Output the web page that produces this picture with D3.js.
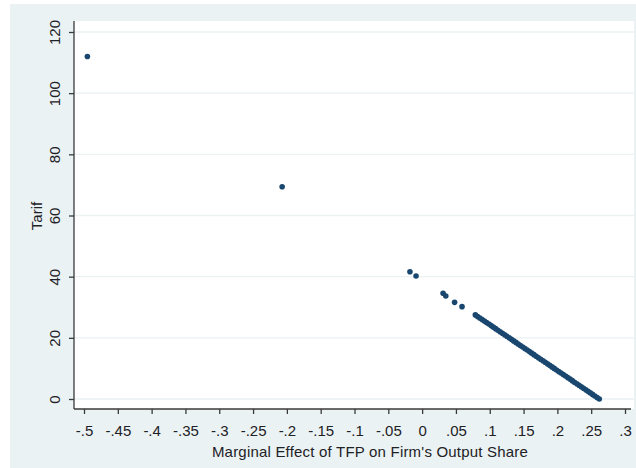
<!DOCTYPE html>
<html>
<head>
<meta charset="utf-8">
<script src="https://cdn.jsdelivr.net/npm/d3@7"></script>
<style>
  body { margin: 0; background: #fff; }
  svg { display: block; font-family: "Liberation Sans", Arial, sans-serif; }
</style>
</head>
<body>
<div id="chart"></div>
<script>
// Tariff vs marginal effect of TFP on firm's output share (Stata-style scatter)

// Scattered points at the top of the distribution
const outlierEffect = [-0.495, -0.207, -0.018, -0.009, 0.031, 0.035, 0.048, 0.059];
const outlierTariff = [112, 69.4, 41.6, 40.2, 34.6, 33.7, 31.6, 30.2];

// Dense run of points along the diagonal
const denseTariff = [
  0, 0.5, 1, 1.5, 2, 2.5, 3, 3.5, 4, 4.5, 5, 5.5, 6, 6.5, 7, 7.5, 8, 8.5, 9, 9.5,
  10, 10.5, 11, 11.5, 12, 12.5, 13, 13.5, 14, 14.5, 15, 15.5, 16, 16.5, 17, 17.5,
  18, 18.5, 19, 19.5, 20, 20.5, 21, 21.5, 22, 22.5, 23, 23.5, 24, 24.5, 25, 25.5,
  26, 26.5, 27, 27.5
];
const denseEffect = [
  .262, .2587, .2553, .252, .2487, .2453, .242, .2387, .2353, .232, .2287, .2253,
  .222, .2187, .2153, .212, .2087, .2053, .202, .1987, .1953, .192, .1887, .1853,
  .182, .1787, .1753, .172, .1687, .1653, .162, .1587, .1553, .152, .1487, .1453,
  .142, .1387, .1353, .132, .1287, .1253, .122, .1187, .1153, .112, .1087, .1053,
  .102, .0987, .0953, .092, .0887, .0853, .082, .0787
];

const xTicks = [-0.5, -0.45, -0.4, -0.35, -0.3, -0.25, -0.2, -0.15, -0.1, -0.05, 0,
                0.05, 0.1, 0.15, 0.2, 0.25, 0.3];
const xTickLabels = ["-.5", "-.45", "-.4", "-.35", "-.3", "-.25", "-.2", "-.15", "-.1", "-.05", "0",
                     ".05", ".1", ".15", ".2", ".25", ".3"];
const yTicks = [0, 20, 40, 60, 80, 100, 120];

const points = outlierEffect.map((x, i) => ({ x, y: outlierTariff[i] }))
  .concat(denseEffect.map((x, i) => ({ x, y: denseTariff[i] })));

const W = 636, H = 468;
const plot = { left: 74, right: 634, top: 21, bottom: 409 };
const textColor = "#1e2126";

const x = d3.scaleLinear().domain([-0.5, 0.3]).range([84, 625]);
const y = d3.scaleLinear().domain([0, 120]).range([399, 32]);

const svg = d3.select("#chart").append("svg")
  .attr("width", W)
  .attr("height", H);

// graph region + plot region
svg.append("rect")
  .attr("x", 10).attr("y", 4)
  .attr("width", W - 10).attr("height", H - 4)
  .attr("fill", "#eaf2f3");

svg.append("rect")
  .attr("x", plot.left).attr("y", plot.top)
  .attr("width", plot.right - plot.left).attr("height", plot.bottom - plot.top)
  .attr("fill", "#fff");

// horizontal grid
svg.append("g")
  .selectAll("line")
  .data(yTicks)
  .enter().append("line")
  .attr("x1", plot.left).attr("x2", plot.right)
  .attr("y1", d => y(d)).attr("y2", d => y(d))
  .attr("stroke", "#eaf2f3")
  .attr("stroke-width", 1.3);

// y axis
const yAxis = svg.append("g")
  .attr("transform", `translate(${plot.left},0)`)
  .call(d3.axisLeft(y).tickValues(yTicks).tickSize(5).tickPadding(8).tickSizeOuter(0));
yAxis.select(".domain").attr("d", `M0,${plot.top}V${plot.bottom}`);
yAxis.selectAll(".tick text")
  .attr("transform", "rotate(-90)")
  .attr("x", 0)
  .attr("y", -14.5)
  .attr("dy", 0)
  .attr("text-anchor", "middle");

// x axis
const xAxis = svg.append("g")
  .attr("transform", `translate(0,${plot.bottom})`)
  .call(d3.axisBottom(x).tickValues(xTicks)
    .tickFormat((d, i) => xTickLabels[i])
    .tickSize(5).tickPadding(11).tickSizeOuter(0));
xAxis.select(".domain").attr("d", `M${plot.left},0H${plot.right - 3}`);

svg.selectAll(".domain, .tick line")
  .attr("stroke", "#3a3a3a")
  .attr("stroke-width", 1.3);
svg.selectAll(".tick text")
  .attr("fill", textColor)
  .attr("font-size", "15px")
  .attr("font-family", "Liberation Sans, Arial, sans-serif");

// axis titles
svg.append("text")
  .attr("x", 370).attr("y", 457)
  .attr("text-anchor", "middle")
  .attr("font-size", "15px")
  .attr("letter-spacing", "0.2px")
  .attr("fill", textColor)
  .text("Marginal Effect of TFP on Firm's Output Share");

svg.append("text")
  .attr("transform", "translate(42,216) rotate(-90)")
  .attr("text-anchor", "middle")
  .attr("font-size", "15px")
  .attr("fill", textColor)
  .text("Tarif");

// markers
svg.append("g")
  .selectAll("circle")
  .data(points)
  .enter().append("circle")
  .attr("cx", d => x(d.x))
  .attr("cy", d => y(d.y))
  .attr("r", 2.8)
  .attr("fill", "#1a476f");
</script>
</body>
</html>
